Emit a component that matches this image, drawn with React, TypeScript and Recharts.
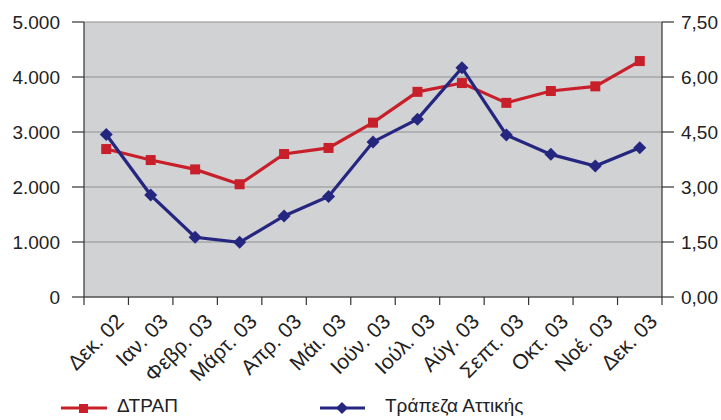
import React from 'react';
import { ComposedChart, Line, XAxis, YAxis, CartesianGrid, Legend } from 'recharts';

const months = [
  'Δεκ. 02', 'Ιαν. 03', 'Φεβρ. 03', 'Μάρτ. 03', 'Απρ. 03', 'Μάι. 03', 'Ιούν. 03',
  'Ιούλ. 03', 'Αύγ. 03', 'Σεπτ. 03', 'Οκτ. 03', 'Νοέ. 03', 'Δεκ. 03',
];
const dtrap = [2690, 2490, 2320, 2050, 2600, 2710, 3170, 3730, 3890, 3530, 3745, 3830, 4290];
const attikis = [4.43, 2.78, 1.63, 1.49, 2.21, 2.74, 4.23, 4.85, 6.25, 4.42, 3.89, 3.57, 4.07];
const leftTicks = [0, 1000, 2000, 3000, 4000, 5000];
const rightTicks = [0, 1.5, 3, 4.5, 6, 7.5];

const data = months.map((m, i) => ({ month: m, dtrap: dtrap[i], attikis: attikis[i] }));

const W = 721;
const H = 420;
const LEFT_W = 84;
const RIGHT_W = 59;
const BAND = (W - LEFT_W - RIGHT_W) / months.length;
const RED = '#c8202b';
const NAVY = '#25267f';
const FONT = '"Liberation Sans", Arial, sans-serif';

const fmtLeft = (v: number) => (v === 0 ? '0' : v.toLocaleString('de-DE'));
const fmtRight = (v: number) => v.toFixed(2).replace('.', ',');

// ticks sit on the band edges, label hangs off the band centre
const MonthTick = (props: any) => {
  const { x, y, payload, index } = props;
  const left = x - BAND / 2;
  return (
    <g>
      <line x1={left} y1={y} x2={left} y2={y + 8} stroke="#333" strokeWidth={1.2} />
      {index === months.length - 1 && (
        <line x1={x + BAND / 2} y1={y} x2={x + BAND / 2} y2={y + 8} stroke="#333" strokeWidth={1.2} />
      )}
      <text
        x={x + 8}
        y={y + 15}
        dy="0.72em"
        textAnchor="end"
        transform={`rotate(-45, ${x + 8}, ${y + 15})`}
        fill="#222"
        fontSize={21}
        fontFamily={FONT}
      >
        {payload.value}
      </text>
    </g>
  );
};

const Square = (props: any) => {
  const { cx, cy, index } = props;
  return <rect key={`s-${index}`} x={cx - 5} y={cy - 5} width={10} height={10} fill={RED} />;
};

const Diamond = (props: any) => {
  const { cx, cy, index } = props;
  const r = 6.5;
  return (
    <polygon
      key={`d-${index}`}
      points={`${cx},${cy - r} ${cx + r},${cy} ${cx},${cy + r} ${cx - r},${cy}`}
      fill={NAVY}
    />
  );
};

const LegendContent = () => (
  <div style={{ position: 'relative', height: 30, fontFamily: FONT, fontSize: 19, color: '#222' }}>
    <svg width={48} height={14} style={{ position: 'absolute', left: 61, top: 11 }}>
      <line x1={0} y1={7} x2={46} y2={7} stroke={RED} strokeWidth={3} />
      <rect x={18} y={3} width={9} height={9} fill={RED} />
    </svg>
    <span style={{ position: 'absolute', left: 117, top: 5 }}>ΔΤΡΑΠ</span>
    <svg width={48} height={14} style={{ position: 'absolute', left: 320, top: 11 }}>
      <line x1={0} y1={7} x2={45} y2={7} stroke={NAVY} strokeWidth={3} />
      <polygon points="22,1 28,7 22,13 16,7" fill={NAVY} />
    </svg>
    <span style={{ position: 'absolute', left: 385, top: 5 }}>Τράπεζα Αττικής</span>
  </div>
);

export default function App() {
  return (
    <div style={{ position: 'absolute', left: 0, top: 0, width: W, height: H, background: '#fff' }}>
      <ComposedChart
        width={W}
        height={H}
        data={data}
        margin={{ top: 22, right: 0, bottom: 0, left: 0 }}
      >
        <CartesianGrid
          yAxisId="left"
          vertical={false}
          fill="#d1d2d4"
          stroke="#8e8f92"
          strokeWidth={1.2}
        />
        <XAxis
          dataKey="month"
          scale="band"
          interval={0}
          height={93}
          tickLine={false}
          tickSize={0}
          tickMargin={0}
          axisLine={{ stroke: '#333', strokeWidth: 1.2 }}
          tick={<MonthTick />}
        />
        <YAxis
          yAxisId="left"
          orientation="left"
          width={LEFT_W}
          domain={[0, 5000]}
          ticks={leftTicks}
          tickFormatter={fmtLeft}
          tickSize={12}
          tickMargin={12}
          axisLine={{ stroke: '#333', strokeWidth: 1.2 }}
          tickLine={{ stroke: '#333', strokeWidth: 1.2 }}
          tick={{ fill: '#222', fontSize: 19, fontFamily: FONT }}
        />
        <YAxis
          yAxisId="right"
          orientation="right"
          width={RIGHT_W}
          domain={[0, 7.5]}
          ticks={rightTicks}
          tickFormatter={fmtRight}
          tickSize={12}
          tickMargin={7}
          axisLine={{ stroke: '#333', strokeWidth: 1.2 }}
          tickLine={{ stroke: '#333', strokeWidth: 1.2 }}
          tick={{ fill: '#222', fontSize: 19, fontFamily: FONT, textAnchor: 'start' }}
        />
        <Legend verticalAlign="bottom" height={30} content={<LegendContent />} />
        <Line
          yAxisId="left"
          type="linear"
          dataKey="dtrap"
          name="ΔΤΡΑΠ"
          stroke={RED}
          strokeWidth={3.2}
          dot={<Square />}
          activeDot={false}
          isAnimationActive={false}
        />
        <Line
          yAxisId="right"
          type="linear"
          dataKey="attikis"
          name="Τράπεζα Αττικής"
          stroke={NAVY}
          strokeWidth={3.2}
          dot={<Diamond />}
          activeDot={false}
          isAnimationActive={false}
        />
      </ComposedChart>
    </div>
  );
}
